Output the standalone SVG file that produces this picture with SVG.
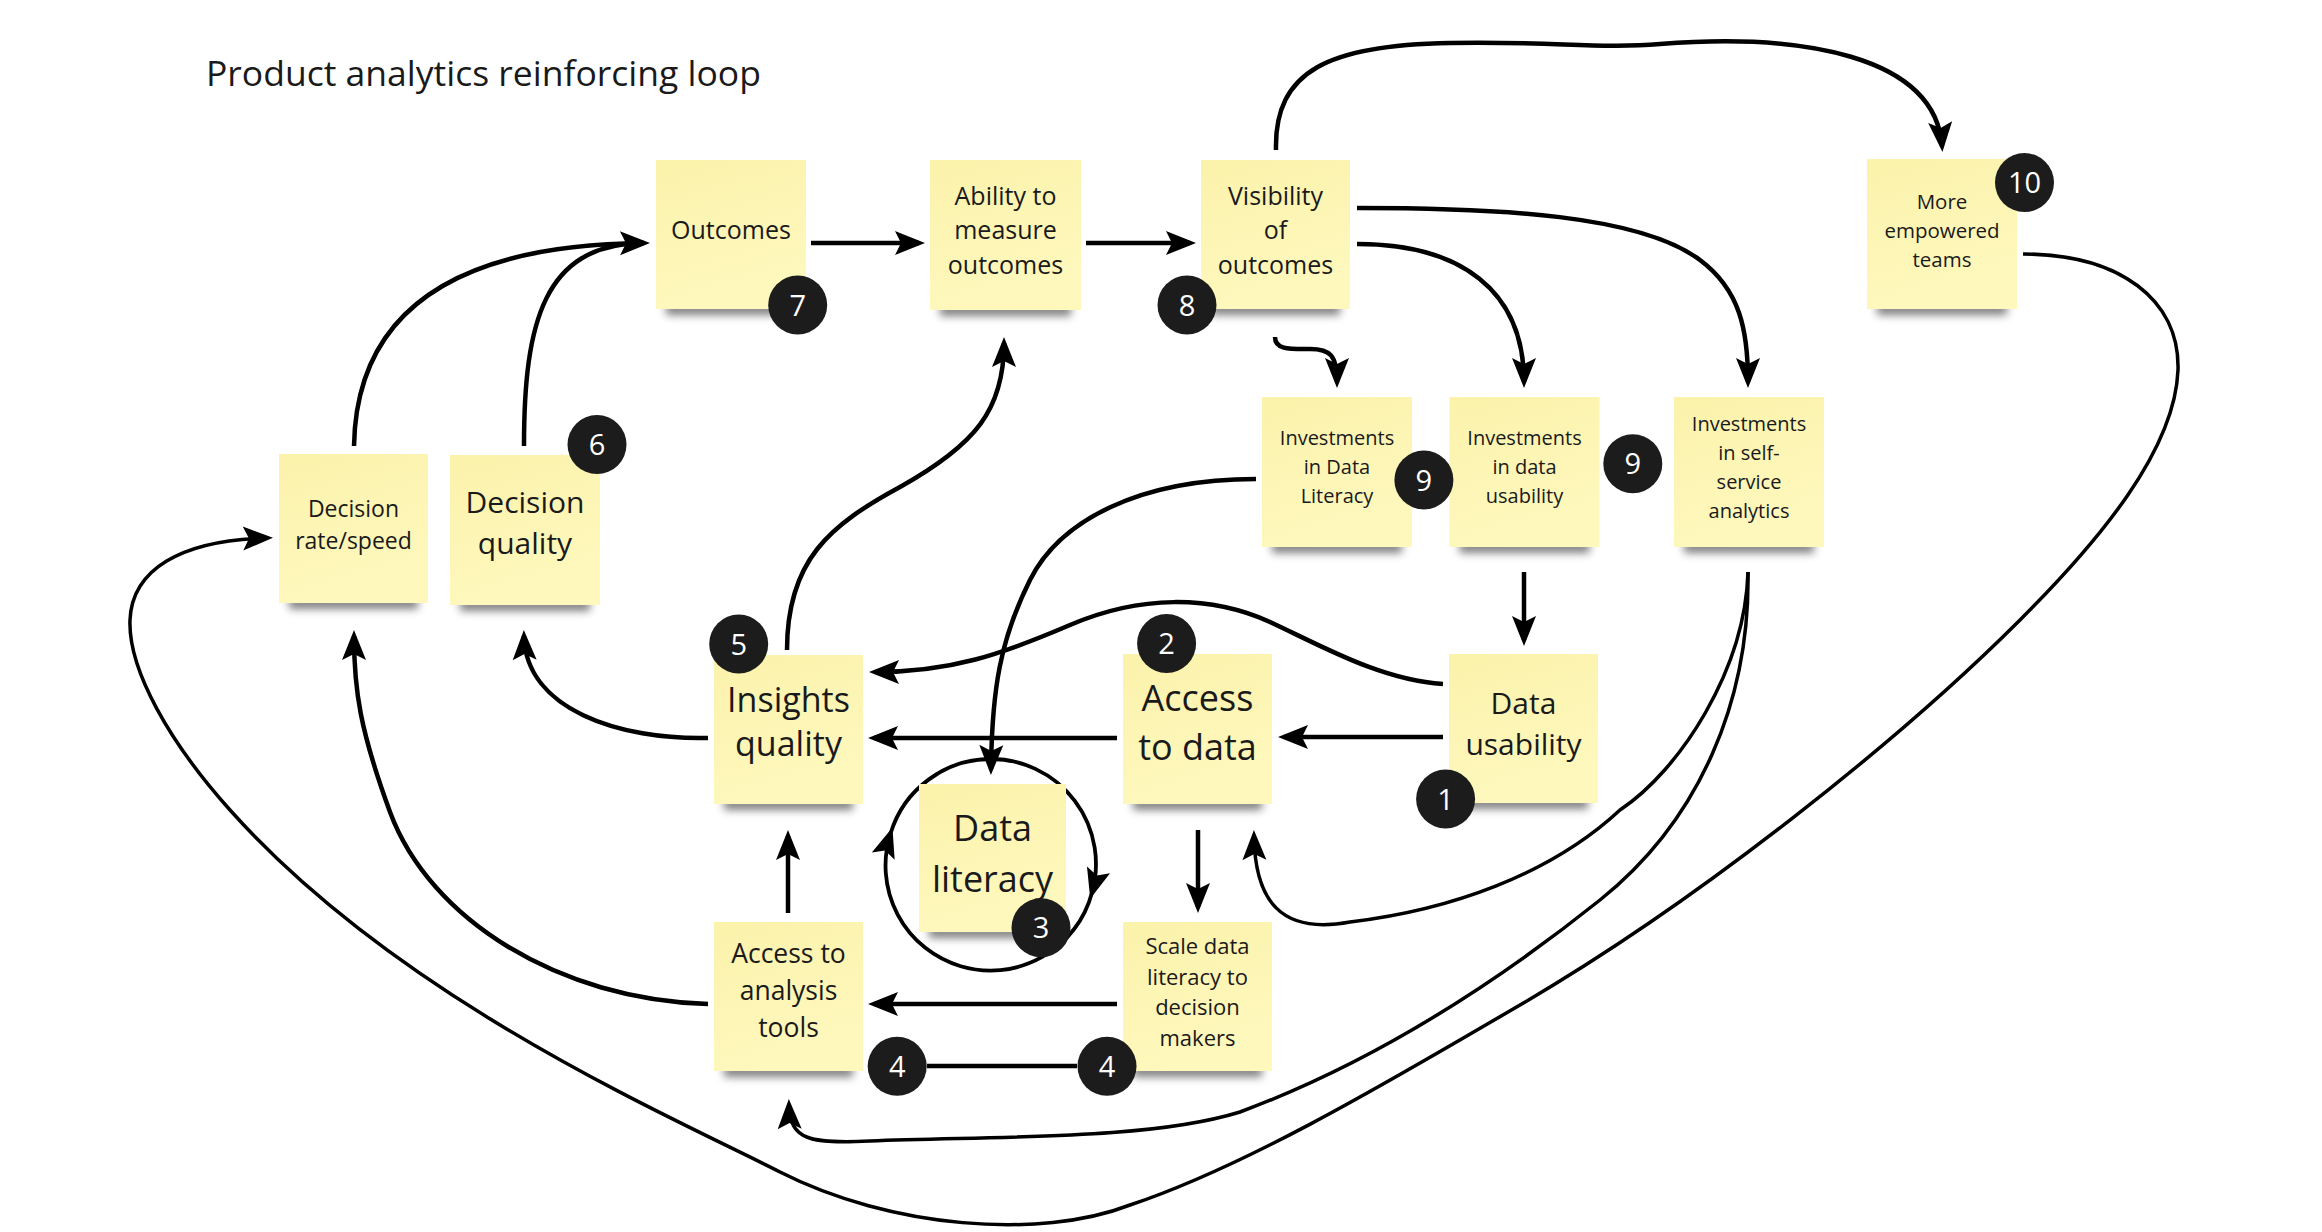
<svg xmlns="http://www.w3.org/2000/svg" width="2322" height="1232" viewBox="0 0 2322 1232">
<defs>
<style>
.sticky{fill:url(#sg);}
.shadow{fill:#000;opacity:.5;filter:url(#blur);}
.t{font-family:"Open Sans","Noto Sans","Liberation Sans",sans-serif;fill:#1a1a1a;text-anchor:middle;}
.title{font-family:"Open Sans","Noto Sans","Liberation Sans",sans-serif;font-weight:400;font-size:35.5px;fill:#1a1a1a;}
.badge circle{fill:#1c1c1c;}
.badge text{font-family:"Open Sans","Noto Sans","Liberation Sans",sans-serif;font-size:29px;fill:#fff;text-anchor:middle;}
.c{fill:none;stroke:#000;stroke-width:4.5;}
.c.thin{stroke-width:3.5;}
.c.arr{marker-end:url(#ah);}
</style>
<linearGradient id="sg" x1="0" y1="0" x2="0.3" y2="1">
<stop offset="0" stop-color="#fbf2ab"/>
<stop offset="1" stop-color="#fef8bd"/>
</linearGradient>
<filter id="blur" x="-20%" y="-150%" width="140%" height="400%"><feGaussianBlur stdDeviation="4"/></filter>
<marker id="ah" markerUnits="userSpaceOnUse" markerWidth="30" markerHeight="24" viewBox="0 0 30 24" refX="24" refY="12" orient="auto" overflow="visible">
<path d="M0,0 L30,12 L0,24 L6,12 Z" fill="#000"/>
</marker>
</defs>
<rect width="2322" height="1232" fill="#fff"/>
<text class="title" x="206" y="86">Product analytics reinforcing loop</text>

<g id="connectors">
<path class="c arr" d="M811,243 L919,243"/>
<path class="c arr" d="M1086,243 L1190,243"/>
<path class="c arr" d="M354,446 C356,330 430,245 644,243"/>
<path class="c" d="M524,446 C524,320 545,246 640,243"/>
<path class="c arr" d="M787,650 C787,560 830,525 900,487 C975,445 1004,410 1004,343"/>
<path class="c arr" d="M1443,684 C1380,680 1320,645 1270,622 C1210,595 1140,595 1070,625 C1000,655 950,672 875,672"/>
<path class="c arr" d="M1256,479 C1140,479 1060,520 1030,580 C1000,640 992,690 991,769"/>
<path class="c arr" d="M1357,208 C1500,208 1640,215 1700,260 C1740,290 1748,330 1748,382"/>
<path class="c arr" d="M1357,244 C1460,244 1524,290 1524,382"/>
<path class="c arr" d="M1275,337 C1275,350 1290,349 1310,349 C1330,349 1337,355 1337,382"/>
<path class="c arr" d="M1276,150 C1274,70 1330,45 1450,43 C1550,41 1600,49 1660,44 C1800,33 1935,55 1942,146"/>
<path class="c arr" d="M1524,572 L1524,640"/>
<path class="c arr" d="M1443,737 L1284,737"/>
<path class="c arr" d="M1117,738 L874,738"/>
<path class="c arr" d="M1198,830 L1198,907"/>
<path class="c arr" d="M1117,1004 L874,1004"/>
<path class="c arr" d="M788,913 L788,836"/>
<path class="c arr" d="M708,738 C620,740 526,710 524,636"/>
<path class="c arr" d="M708,1004 C560,1000 430,920 390,812 C360,730 354,690 354,636"/>
<path class="c thin arr" d="M1748,572 C1745,670 1680,770 1620,810 C1550,875 1450,910 1350,922 C1280,935 1255,900 1254,836"/>
<path class="c thin arr" d="M1748,572 C1750,700 1700,820 1600,900 C1500,980 1380,1060 1240,1112 C1150,1140 1000,1136 870,1141 C810,1144 790,1140 789,1105"/>
<path class="c thin arr" d="M2023,254 C2120,254 2180,300 2178,370 C2175,450 2100,540 2020,620 C1900,740 1700,900 1520,1005 C1400,1075 1250,1165 1130,1205 C1040,1240 890,1228 780,1172 C670,1116 400,1000 230,810 C170,743 128,670 130,620 C132,570 180,540 267,538"/>
<path class="c" d="M927,1066 L1077,1066"/>
<path class="c arr" style="stroke-width:3.8" d="M991,759 A105,105 0 0,1 1091.9,892.9"/>
<path class="c arr" style="stroke-width:3.8" d="M1091.9,892.9 A105,105 0 1,1 890.6,833.3"/>
<path class="c" style="stroke-width:3.8" d="M890.6,833.3 A105,105 0 0,1 991,759"/>
</g>

<g id="n-outcomes">
<rect class="shadow" x="666" y="303" width="130" height="12"/>
<rect class="sticky" x="656" y="160" width="150" height="149"/>
<text class="t" font-size="25"><tspan x="731" y="239">Outcomes</tspan></text>
</g>
<g id="n-ability">
<rect class="shadow" x="940" y="304" width="131" height="12"/>
<rect class="sticky" x="930" y="160" width="151" height="150"/>
<text class="t" font-size="25"><tspan x="1005.5" y="204.6">Ability to</tspan><tspan x="1005.5" y="239">measure</tspan><tspan x="1005.5" y="273.5">outcomes</tspan></text>
</g>
<g id="n-visibility">
<rect class="shadow" x="1211" y="303" width="129" height="12"/>
<rect class="sticky" x="1201" y="160" width="149" height="149"/>
<text class="t" font-size="25"><tspan x="1275.5" y="204.6">Visibility</tspan><tspan x="1275.5" y="239">of</tspan><tspan x="1275.5" y="273.5">outcomes</tspan></text>
</g>
<g id="n-more">
<rect class="shadow" x="1877" y="303" width="130" height="12"/>
<rect class="sticky" x="1867" y="159" width="150" height="150"/>
<text class="t" font-size="20.5"><tspan x="1942" y="209">More</tspan><tspan x="1942" y="238">empowered</tspan><tspan x="1942" y="267">teams</tspan></text>
</g>
<g id="n-rate">
<rect class="shadow" x="289" y="597" width="129" height="12"/>
<rect class="sticky" x="279" y="454" width="149" height="149"/>
<text class="t" font-size="23"><tspan x="353.5" y="516.5">Decision</tspan><tspan x="353.5" y="549">rate/speed</tspan></text>
</g>
<g id="n-dq">
<rect class="shadow" x="460" y="599" width="130" height="12"/>
<rect class="sticky" x="450" y="455" width="150" height="150"/>
<text class="t" font-size="30"><tspan x="525" y="513">Decision</tspan><tspan x="525" y="554">quality</tspan></text>
</g>
<g id="n-inv-lit">
<rect class="shadow" x="1272" y="541" width="130" height="12"/>
<rect class="sticky" x="1262" y="397" width="150" height="150"/>
<text class="t" font-size="20"><tspan x="1337" y="445">Investments</tspan><tspan x="1337" y="474">in Data</tspan><tspan x="1337" y="503">Literacy</tspan></text>
</g>
<g id="n-inv-use">
<rect class="shadow" x="1459.5" y="541" width="130" height="12"/>
<rect class="sticky" x="1449.5" y="397" width="150" height="150"/>
<text class="t" font-size="20"><tspan x="1524.5" y="445">Investments</tspan><tspan x="1524.5" y="474">in data</tspan><tspan x="1524.5" y="503">usability</tspan></text>
</g>
<g id="n-inv-self">
<rect class="shadow" x="1684" y="541" width="130" height="12"/>
<rect class="sticky" x="1674" y="397" width="150" height="150"/>
<text class="t" font-size="20"><tspan x="1749" y="430.5">Investments</tspan><tspan x="1749" y="459.5">in self-</tspan><tspan x="1749" y="488.5">service</tspan><tspan x="1749" y="517.5">analytics</tspan></text>
</g>
<g id="n-insights">
<rect class="shadow" x="724" y="798" width="129" height="12"/>
<rect class="sticky" x="714" y="655" width="149" height="149"/>
<text class="t" font-size="34"><tspan x="788.5" y="712">Insights</tspan><tspan x="788.5" y="756">quality</tspan></text>
</g>
<g id="n-access">
<rect class="shadow" x="1133" y="798" width="129" height="12"/>
<rect class="sticky" x="1123" y="654" width="149" height="150"/>
<text class="t" font-size="36"><tspan x="1197.5" y="711">Access</tspan><tspan x="1197.5" y="760">to data</tspan></text>
</g>
<g id="n-usability">
<rect class="shadow" x="1459" y="797" width="129" height="12"/>
<rect class="sticky" x="1449" y="654" width="149" height="149"/>
<text class="t" font-size="30"><tspan x="1523.5" y="714">Data</tspan><tspan x="1523.5" y="755">usability</tspan></text>
</g>
<g id="n-literacy">
<rect class="shadow" x="929" y="926" width="127" height="12"/>
<rect class="sticky" x="919" y="784" width="147" height="148"/>
<text class="t" font-size="36"><tspan x="992.5" y="840.5">Data</tspan><tspan x="992.5" y="891.5">literacy</tspan></text>
</g>
<g id="n-tools">
<rect class="shadow" x="724" y="1065" width="129" height="12"/>
<rect class="sticky" x="714" y="922" width="149" height="149"/>
<text class="t" font-size="26.5"><tspan x="788.5" y="963">Access to</tspan><tspan x="788.5" y="1000">analysis</tspan><tspan x="788.5" y="1037">tools</tspan></text>
</g>
<g id="n-scale">
<rect class="shadow" x="1133" y="1065" width="129" height="12"/>
<rect class="sticky" x="1123" y="922" width="149" height="149"/>
<text class="t" font-size="22"><tspan x="1197.5" y="954">Scale data</tspan><tspan x="1197.5" y="984.6">literacy to</tspan><tspan x="1197.5" y="1015">decision</tspan><tspan x="1197.5" y="1045.8">makers</tspan></text>
</g>

<g id="badges">
<g id="b1" class="badge"><circle cx="1445.6" cy="799" r="29.5"/><text x="1445.6" y="809.5">1</text></g>
<g id="b2" class="badge"><circle cx="1166.6" cy="643.5" r="29.5"/><text x="1166.6" y="654">2</text></g>
<g id="b3" class="badge"><circle cx="1041" cy="927.7" r="29.5"/><text x="1041" y="938.2">3</text></g>
<g id="b4a" class="badge"><circle cx="897.2" cy="1066.3" r="29.5"/><text x="897.2" y="1076.8">4</text></g>
<g id="b4b" class="badge"><circle cx="1107" cy="1066.3" r="29.5"/><text x="1107" y="1076.8">4</text></g>
<g id="b5" class="badge"><circle cx="738.7" cy="644" r="29.5"/><text x="738.7" y="654.5">5</text></g>
<g id="b6" class="badge"><circle cx="597" cy="444.6" r="29.5"/><text x="597" y="455.1">6</text></g>
<g id="b7" class="badge"><circle cx="797.7" cy="305" r="29.5"/><text x="797.7" y="315.5">7</text></g>
<g id="b8" class="badge"><circle cx="1187" cy="305" r="29.5"/><text x="1187" y="315.5">8</text></g>
<g id="b9a" class="badge"><circle cx="1423.9" cy="480" r="29.5"/><text x="1423.9" y="490.5">9</text></g>
<g id="b9b" class="badge"><circle cx="1632.8" cy="463.7" r="29.5"/><text x="1632.8" y="474.2">9</text></g>
<g id="b10" class="badge"><circle cx="2024.5" cy="182.6" r="29.5"/><text x="2024.5" y="193.1">10</text></g>
</g>
</svg>
